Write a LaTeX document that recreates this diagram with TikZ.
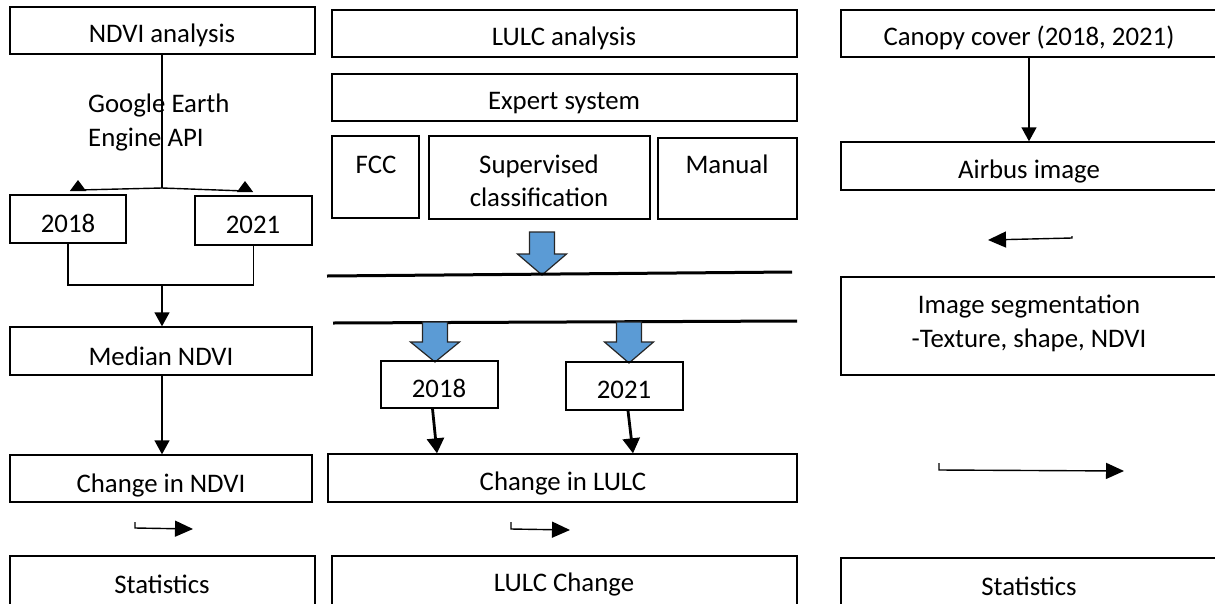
\documentclass[tikz,border=0pt]{standalone}
\usepackage{fontspec}
\setmainfont{Carlito}
\usetikzlibrary{arrows.meta}
\definecolor{blu}{HTML}{5B9BD5}
\newcommand\mybox[5]{\node[box, minimum width={(#3-#1)*1pt}, minimum height={(#4-#2)*1pt}] (#5) at ({(#1+#3)/2},{(#2+#4)/2}) {};}
\newcommand\blockarrow[5]{% x center, shaft top y, head y, tip y, name
  \draw[bluearr] ({#1-12.5},#2) -- ({#1+12.5},#2) -- ({#1+12.5},#3) -- ({#1+24.5},#3) -- (#1,#4) -- ({#1-24.5},#3) -- ({#1-12.5},#3) -- cycle;
  \coordinate (#5) at (#1,#4);}
\begin{document}
\begin{tikzpicture}[x=1pt,y=-1pt,
  box/.style={draw, line width=1.4pt, inner sep=0pt},
  txt/.style={anchor=base, inner sep=0pt, font=\fontsize{26.8}{34}\selectfont},
  arr/.style={line width=1.4pt, -{Triangle[length=14pt,width=15pt]}},
  sarr/.style={line width=1.4pt, -{Triangle[length=18pt,width=16pt]}},
  harr/.style={line width=2.8pt, -{Triangle[length=15pt,width=17pt]}},
  upt/.style={line width=1.4pt, -{Triangle[length=11pt,width=16pt]}},
  bluearr/.style={fill=blu, draw=black!85, line width=1.2pt, line join=miter},
  bar/.style={line width=3pt}]
\useasboundingbox (0,0) rectangle (1215,603);
\clip (0,0) rectangle (1215,603);

% ---------- left column ----------
\mybox{10}{7}{315}{54}{ndvi}
\node[txt] (tndvi) at (162,42) {NDVI analysis};
\node[txt, anchor=base west] (tgee1) at (88,112) {Google Earth};
\node[txt, anchor=base west] (tgee2) at (88,146) {Engine API};
\mybox{10}{195}{126}{243}{la}
\node[txt] (tla) at (68,232) {2018};
\mybox{195}{196}{312}{245}{lb}
\node[txt] (tlb) at (253,233) {2021};
\mybox{10}{327}{312}{375}{med}
\node[txt] (tmed) at (161,365) {Median NDVI};
\mybox{10}{455}{312}{502}{chn}
\node[txt] (tchn) at (161,492) {Change in NDVI};
\mybox{10}{556}{315}{615}{stl}
\node[txt] (tstl) at (162,593) {Statistics};

\coordinate (j1) at (162,188);
\coordinate (j1a) at (78,190);
\coordinate (j1aa) at (78,180);
\coordinate (j1b) at (245,191);
\coordinate (j1bb) at (245,181);
\draw[line width=1.4pt] (ndvi.south -| j1) -- (j1);
\draw[upt] (j1) -- (j1a) -- (j1aa);
\draw[upt] (j1) -- (j1b) -- (j1bb);
\coordinate (j2) at (162,285);
\draw[line width=1.4pt] (la.south) |- (j2) -| (lb.south);
\draw[arr] (j2) -- (j2 |- med.north);
\draw[arr] (j2 |- med.south) -- (j2 |- chn.north);
\coordinate (s1a) at (135,522);
\coordinate (s1b) at (135,528);
\coordinate (s1c) at (193,529);
\draw[sarr] (s1a) -- (s1b) -- (s1c);

% ---------- middle column ----------
\mybox{332}{10}{797}{57}{lulc}
\node[txt] (tlulc) at (564,45) {LULC analysis};
\mybox{332}{74}{797}{121}{exp}
\node[txt] (texp) at (564,109) {Expert system};
\mybox{332}{136}{419}{218}{fcc}
\node[txt] (tfcc) at (376,173) {FCC};
\mybox{429}{136}{650}{219}{sup}
\node[txt] (tsup1) at (539,173) {Supervised};
\node[txt] (tsup2) at (539,206) {classification};
\mybox{658}{138}{797}{219}{man}
\node[txt] (tman) at (727,173) {Manual};

\blockarrow{542}{232}{254}{275}{ba1}
\coordinate (l1a) at (327,276);
\coordinate (l1b) at (792,272);
\draw[bar] (l1a) -- (l1b);
\coordinate (l2a) at (333,323);
\coordinate (l2b) at (797,321);
\draw[bar] (l2a) -- (l2b);
\blockarrow{435}{322}{342}{362}{ba2}
\blockarrow{629}{322}{342}{363}{ba3}

\mybox{381}{361}{498}{408}{ma}
\node[txt] (tma) at (439,397) {2018};
\mybox{566}{362}{683}{410}{mb}
\node[txt] (tmb) at (624,398) {2021};
\mybox{328}{454}{797}{502}{chl}
\node[txt] (tchl) at (563,490) {Change in LULC};
\draw[harr] ([xshift=-7pt]ma.south) -- (chl.north -| 437,0);
\draw[harr] ([xshift=3.5pt]mb.south) -- (chl.north -| 633,0);
\coordinate (s2a) at (511,522);
\coordinate (s2b) at (511,529);
\coordinate (s2c) at (570,530);
\draw[sarr] (s2a) -- (s2b) -- (s2c);
\mybox{332}{556}{797}{615}{lch}
\node[txt] (tlch) at (564,591) {LULC Change};

% ---------- right column ----------
\mybox{841}{10}{1230}{57}{can}
\node[txt] (tcan) at (1029,45) {Canopy cover (2018, 2021)};
\mybox{841}{142}{1230}{190}{air}
\node[txt] (tair) at (1029,178) {Airbus image};
\draw[arr] (can.south -| 1029,0) -- (air.north -| 1029,0);
\coordinate (s3a) at (1072,236);
\coordinate (s3b) at (1072,238);
\coordinate (s3c) at (988,240);
\draw[sarr] (s3a) -- (s3b) -- (s3c);
\mybox{841}{277}{1230}{375}{seg}
\node[txt] (tseg1) at (1029,313) {Image segmentation};
\node[txt] (tseg2) at (1029,347) {-Texture, shape, NDVI};
\coordinate (s4a) at (939,463);
\coordinate (s4b) at (939,470);
\coordinate (s4c) at (1124,471);
\draw[sarr] (s4a) -- (s4b) -- (s4c);
\mybox{841}{558}{1230}{615}{str}
\node[txt] (tstr) at (1029,595) {Statistics};
\end{tikzpicture}
\end{document}
